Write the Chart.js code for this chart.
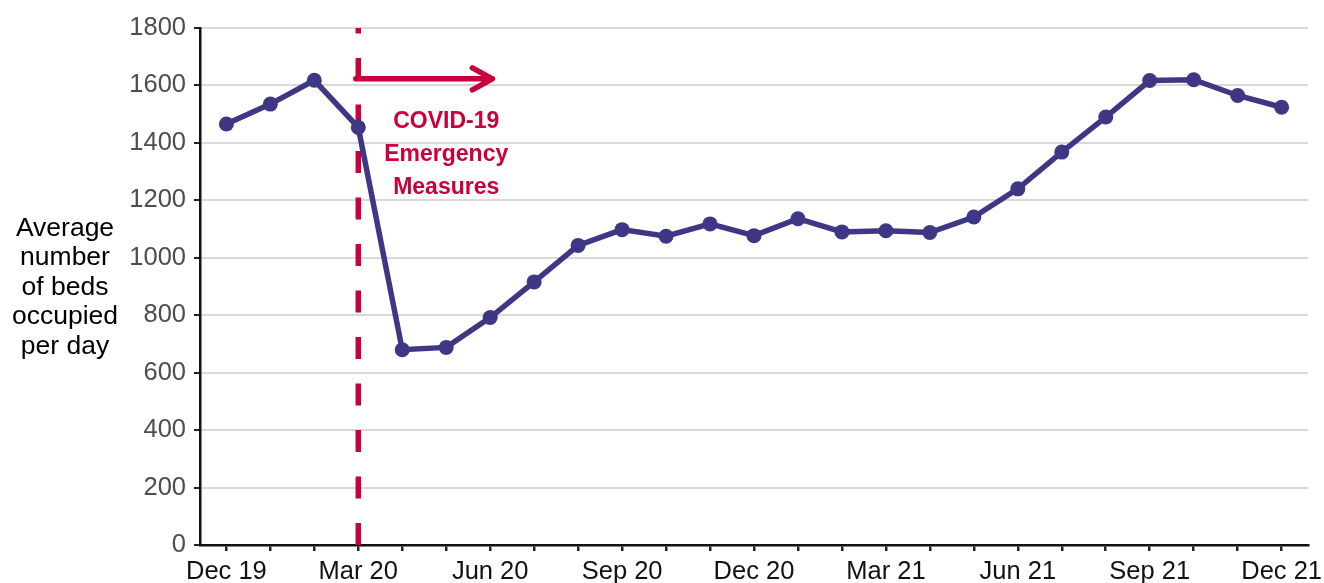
<!DOCTYPE html>
<html>
<head>
<meta charset="utf-8">
<script src="https://cdn.jsdelivr.net/npm/chart.js@4/dist/chart.umd.min.js"></script>
<style>
  html, body { margin:0; padding:0; background:#fff; }
  #wrap { width:1324px; height:583px; }
</style>
</head>
<body>
<div id="wrap"><canvas id="chart" width="1324" height="583"></canvas></div>
<script>
// monthly average number of beds occupied per day, Dec 2019 - Dec 2021
const months = ['Dec 19','Jan 20','Feb 20','Mar 20','Apr 20','May 20','Jun 20','Jul 20','Aug 20','Sep 20','Oct 20','Nov 20',
  'Dec 20','Jan 21','Feb 21','Mar 21','Apr 21','May 21','Jun 21','Jul 21','Aug 21','Sep 21','Oct 21','Nov 21','Dec 21'];
const beds = [1466,1535,1618,1454,680,688,792,916,1043,1098,1075,1118,1077,1136,1090,1094,1088,1142,1240,1368,1490,1617,1620,1565,1524];
const yTicks = [0,200,400,600,800,1000,1200,1400,1600,1800];
const yTitle = ['Average','number','of beds','occupied','per day'];
const noteLines = ['COVID-19','Emergency','Measures'];
const measuresIndex = 3;   // Mar 20

const purple = '#3e3785';
const red = '#c8003c';
const FONT = 'Liberation Sans, Arial, sans-serif';

const extras = {
  id:'extras',
  beforeDatasetsDraw(chart){
    const {ctx, chartArea:a, scales:{x, y}} = chart;
    const xm = x.getPixelForValue(measuresIndex);
    ctx.save();
    // dashed line
    ctx.strokeStyle = red;
    ctx.lineWidth = 5.5;
    ctx.setLineDash([22, 24.5]);
    ctx.beginPath();
    ctx.moveTo(xm, a.bottom);
    ctx.lineTo(xm, a.top);
    ctx.stroke();
    ctx.setLineDash([]);
    // arrow
    const ya = y.getPixelForValue(1623);
    const xe = x.getPixelForValue(measuresIndex + 3.05);
    ctx.lineCap = 'round';
    ctx.lineJoin = 'round';
    ctx.beginPath();
    ctx.moveTo(xm - 2.5, ya);
    ctx.lineTo(xe, ya);
    ctx.moveTo(xe - 20, ya - 11);
    ctx.lineTo(xe, ya);
    ctx.lineTo(xe - 20, ya + 11);
    ctx.stroke();
    // note text
    ctx.fillStyle = red;
    ctx.font = 'bold 23px ' + FONT;
    ctx.textAlign = 'center';
    ctx.textBaseline = 'middle';
    const xn = x.getPixelForValue(measuresIndex + 2);
    const yn = y.getPixelForValue(1475);
    noteLines.forEach((t,i)=> ctx.fillText(t, xn, yn + i*33));
    // y axis title
    ctx.fillStyle = '#000';
    ctx.font = '26.5px ' + FONT;
    const yc = y.getPixelForValue(900);
    yTitle.forEach((t,i)=> ctx.fillText(t, 65, yc + (i-2)*29.5 + 1));
    ctx.restore();
  }
};

new Chart(document.getElementById('chart'), {
  type:'line',
  data:{
    datasets:[{
      data: beds.map((v,i)=>({x:i, y:v})),
      borderColor: purple,
      backgroundColor: purple,
      borderWidth: 5.5,
      pointRadius: 7.5,
      pointBackgroundColor: purple,
      pointBorderWidth: 0,
      tension: 0
    }]
  },
  options:{
    responsive:false,
    animation:false,
    layout:{ padding:{ top:28, right:16, left:0, bottom:0 } },
    plugins:{ legend:{display:false}, tooltip:{enabled:false} },
    scales:{
      x:{
        type:'linear',
        min:-0.6, max:24.6,
        afterFit(s){ s.height = 38; s.paddingLeft = 0; s.paddingRight = 0; },
        afterBuildTicks(s){ s.ticks = months.map((m,i)=>({value:i})); },
        ticks:{
          autoSkip:false, maxRotation:0, includeBounds:false, stepSize:1,
          color:'#111', padding:6,
          font:{ family:FONT, size:25.5 },
          callback:(v)=> (v % 3 === 0 ? months[v] : '')
        },
        grid:{ drawOnChartArea:false, drawTicks:true, tickLength:6, tickColor:'#222', lineWidth:2.5 },
        border:{ color:'#111', width:2.5 }
      },
      y:{
        min:0, max:1800,
        afterFit(s){ s.width = 200; },
        afterBuildTicks(s){ s.ticks = yTicks.map(v=>({value:v})); },
        ticks:{ color:'#4d4d4d', padding:8, font:{ family:FONT, size:25.5 }, callback:(v)=> String(v) },
        grid:{ color:'#d9d9d9', lineWidth:2, tickLength:6, tickColor:'#222' },
        border:{ color:'#111', width:2.5 }
      }
    }
  },
  plugins:[extras]
});
</script>
</body>
</html>
